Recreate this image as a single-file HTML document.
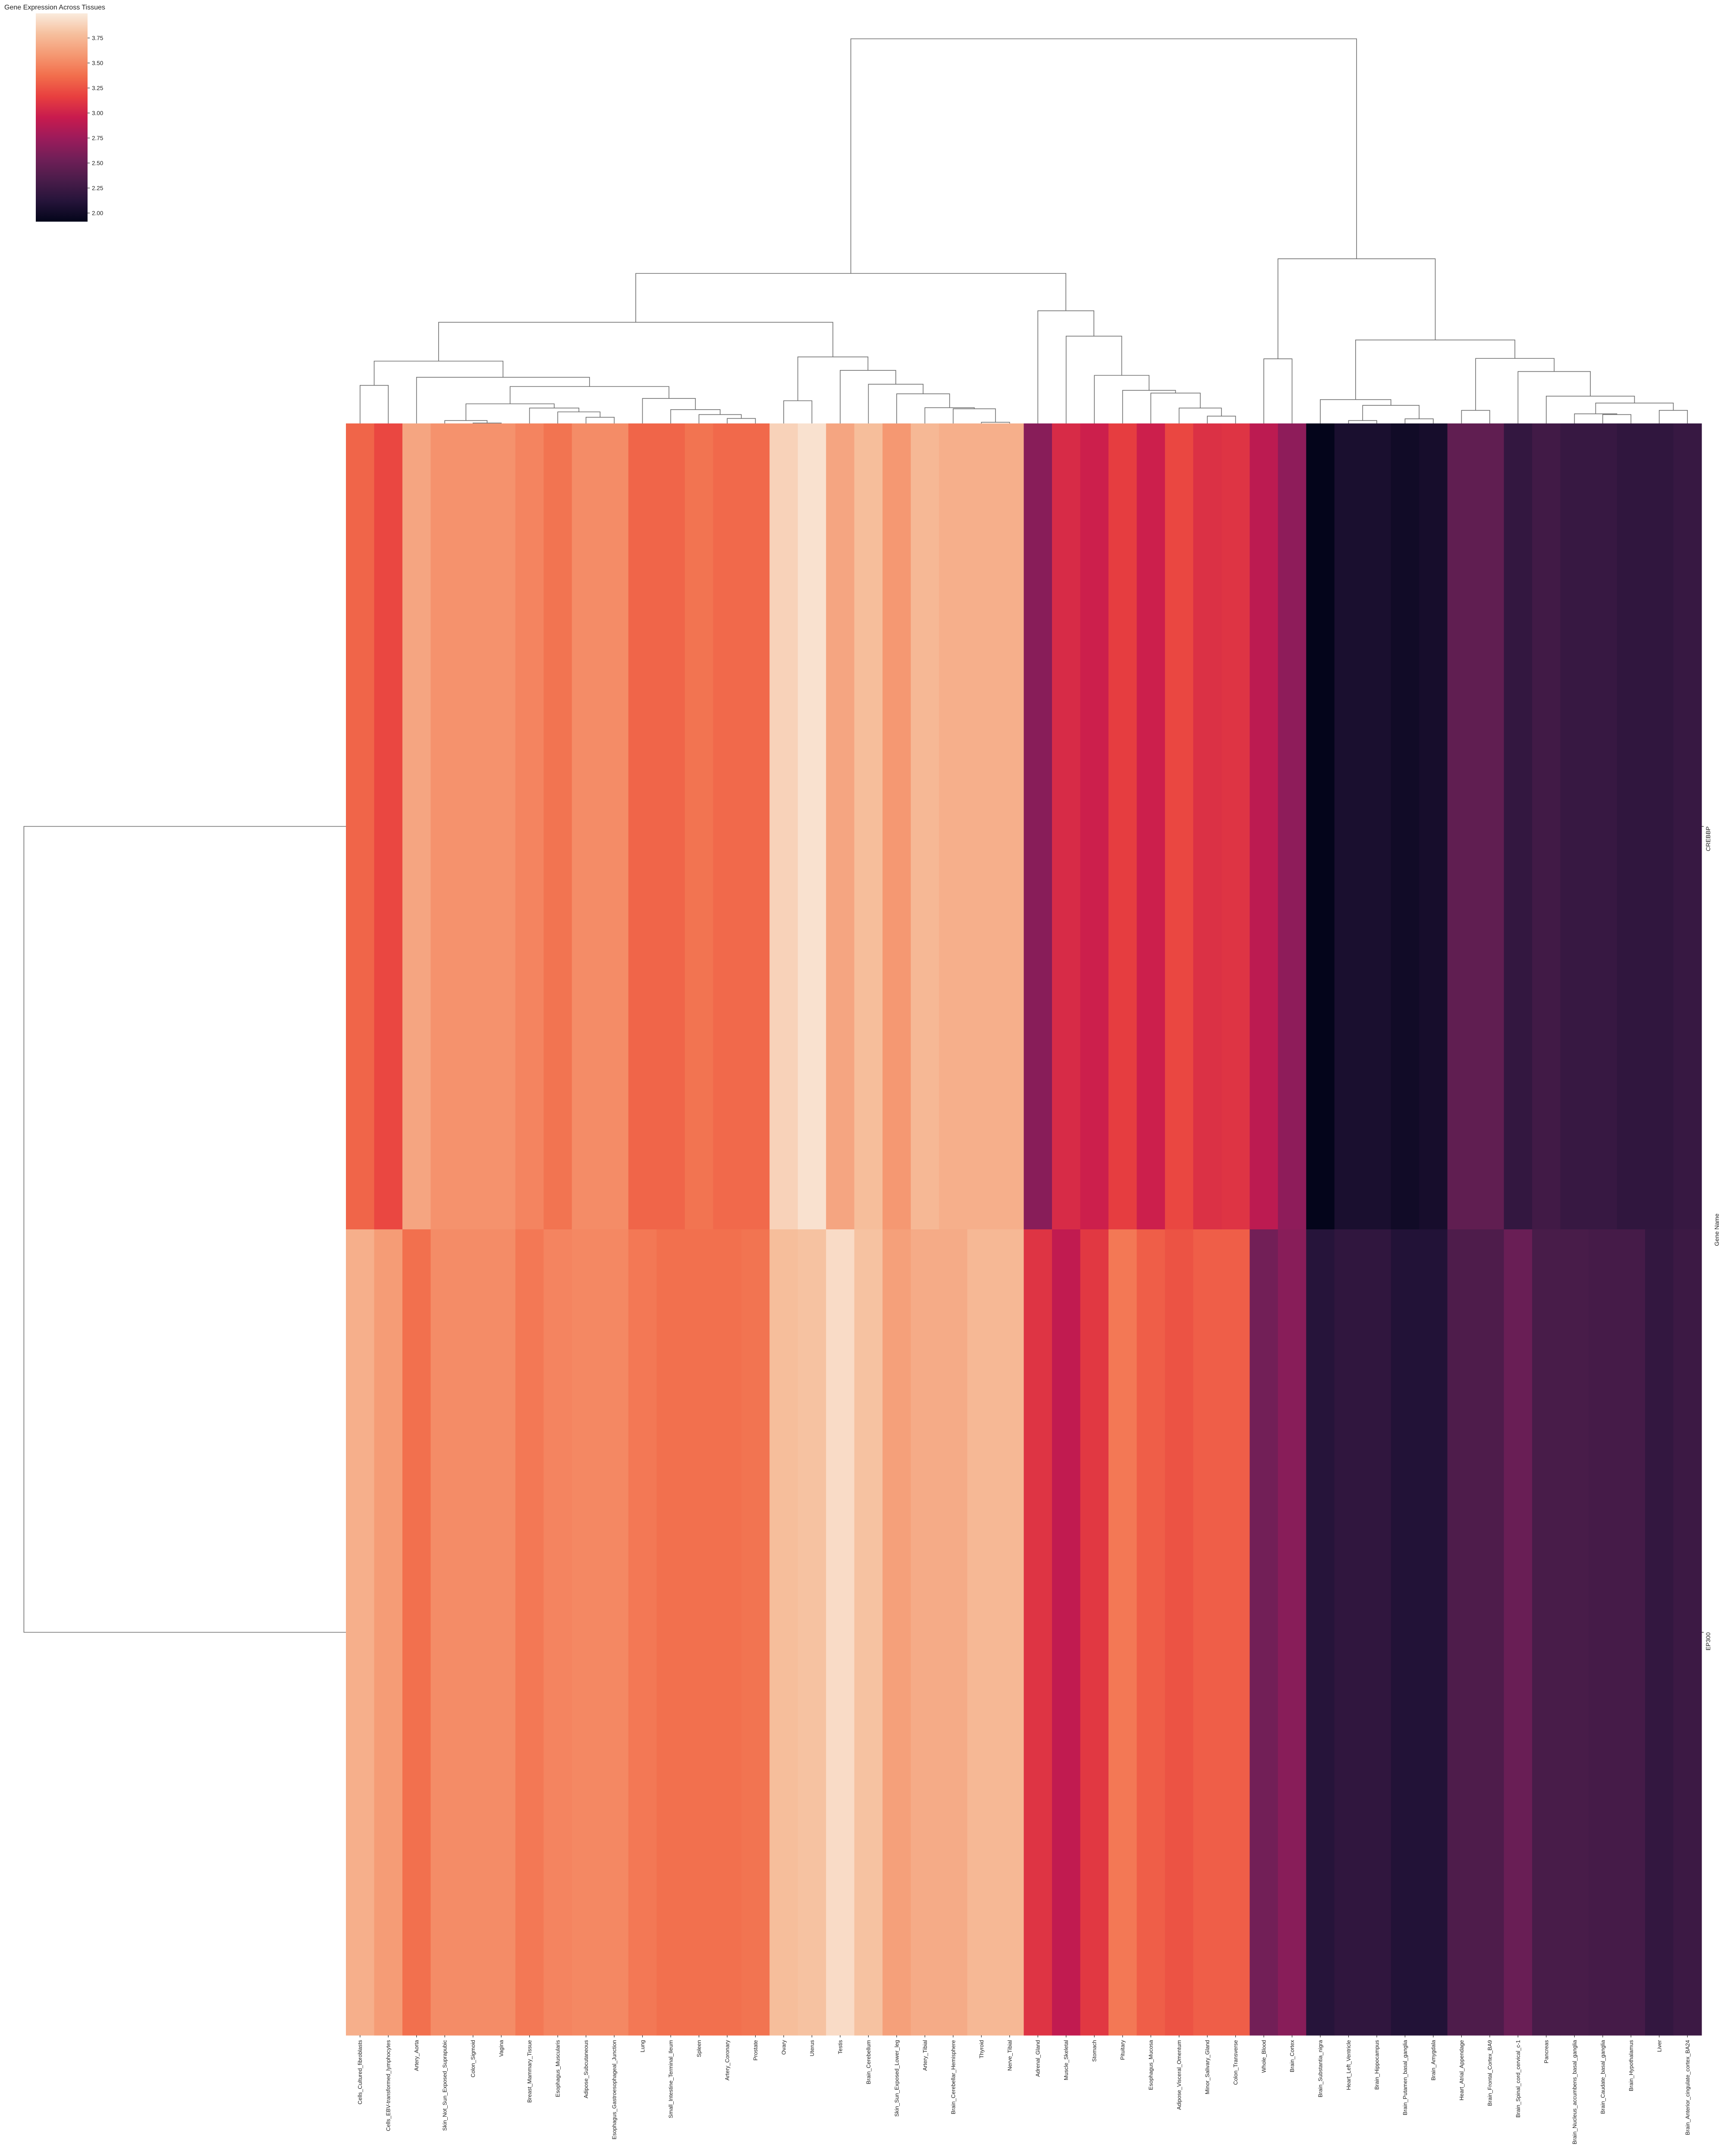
<!DOCTYPE html>
<html><head><meta charset="utf-8"><title>Gene Expression Across Tissues</title>
<style>html,body{margin:0;padding:0;background:#fff;overflow:hidden;}svg{display:block;font-family:"Liberation Sans","DejaVu Sans",sans-serif;}</style>
</head><body>
<svg id="chart" width="3997" height="5027" viewBox="0 0 3997 5027" xmlns="http://www.w3.org/2000/svg">
<defs><linearGradient id="cbgrad" x1="0" y1="1" x2="0" y2="0"></linearGradient></defs>
<text x="10" y="22" font-size="16" fill="#222">Gene Expression Across Tissues</text>
<g id="colorbar"></g>
<g id="heat"></g>
<g id="coldend"></g>
<g id="rowdend"></g>
<g id="xlabels"></g>
<g id="ylabels"></g>
</svg>
<script>
const tissues = ["Cells_Cultured_fibroblasts","Cells_EBV-transformed_lymphocytes","Artery_Aorta","Skin_Not_Sun_Exposed_Suprapubic","Colon_Sigmoid","Vagina","Breast_Mammary_Tissue","Esophagus_Muscularis","Adipose_Subcutaneous","Esophagus_Gastroesophageal_Junction","Lung","Small_Intestine_Terminal_Ileum","Spleen","Artery_Coronary","Prostate","Ovary","Uterus","Testis","Brain_Cerebellum","Skin_Sun_Exposed_Lower_leg","Artery_Tibial","Brain_Cerebellar_Hemisphere","Thyroid","Nerve_Tibial","Adrenal_Gland","Muscle_Skeletal","Stomach","Pituitary","Esophagus_Mucosa","Adipose_Visceral_Omentum","Minor_Salivary_Gland","Colon_Transverse","Whole_Blood","Brain_Cortex","Brain_Substantia_nigra","Heart_Left_Ventricle","Brain_Hippocampus","Brain_Putamen_basal_ganglia","Brain_Amygdala","Heart_Atrial_Appendage","Brain_Frontal_Cortex_BA9","Brain_Spinal_cord_cervical_c-1","Pancreas","Brain_Nucleus_accumbens_basal_ganglia","Brain_Caudate_basal_ganglia","Brain_Hypothalamus","Liver","Brain_Anterior_cingulate_cortex_BA24"];
const genes = ["CREBBP","EP300"];
const crebbp = [3.33,3.2,3.65,3.55,3.55,3.55,3.48,3.4,3.52,3.52,3.33,3.33,3.4,3.35,3.35,3.88,3.95,3.65,3.78,3.58,3.75,3.7,3.7,3.7,2.65,3.05,2.98,3.15,2.98,3.2,3.08,3.1,2.9,2.68,1.92,2.05,2.05,2.0,2.03,2.45,2.45,2.2,2.28,2.22,2.22,2.18,2.18,2.22];
const ep300 = [3.7,3.6,3.38,3.52,3.52,3.52,3.42,3.48,3.5,3.5,3.42,3.38,3.38,3.38,3.4,3.78,3.8,3.92,3.8,3.62,3.68,3.68,3.75,3.75,3.1,2.92,3.12,3.42,3.3,3.25,3.3,3.3,2.55,2.65,2.12,2.18,2.18,2.1,2.1,2.35,2.35,2.5,2.32,2.32,2.3,2.3,2.2,2.25];
const cbTicks = [2.00,2.25,2.50,2.75,3.00,3.25,3.50,3.75];
const cbRange = [1.914,3.996];
// column linkage (scipy style): merge k creates node id 48+k
const mergeLeft  = [4,3,8,7,6,49,13,12,11,10,53,2,0,60,22,21,20,19,18,17,15,68,61,30,29,28,27,26,25,24,70,32,35,37,80,34,39,44,43,46,86,42,41,84,83,79,78];
const mergeRight = [5,48,9,50,51,52,14,54,55,56,57,58,1,59,23,62,63,64,65,66,16,67,69,31,71,72,73,74,75,76,77,33,36,38,81,82,40,45,85,47,87,88,89,90,91,92,93];
const mergeDist  = [0.01,0.075,0.16,0.30,0.40,0.51,0.13,0.23,0.36,0.65,0.96,1.20,0.99,1.62,0.03,0.38,0.41,0.77,1.02,1.38,0.59,1.73,2.63,0.19,0.40,0.79,0.86,1.25,2.27,2.93,3.90,1.68,0.075,0.12,0.47,0.62,0.34,0.23,0.25,0.34,0.53,0.71,1.35,1.69,2.17,4.28,10.0];
const rowLinkDist = [8.37];

const NS="http://www.w3.org/2000/svg";
function mk(tag,attrs,parent){const e=document.createElementNS(NS,tag);for(const k in attrs)e.setAttribute(k,attrs[k]);parent.appendChild(e);return e;}
const HX0=802,HX1=3945,HY0=982,HY1=4720;
const NC=tissues.length;
const cw=(HX1-HX0)/NC, rh=(HY1-HY0)/genes.length;
const colX=i=>HX0+(i+0.5)*cw;
const dendY=d=>HY0-d*89.2;
const rowDendX=d=>HX0-d*89.2;
const stops=[[0,"#03051a"],[0.1,"#26143a"],[0.2,"#4a1c4a"],[0.3,"#701f57"],[0.4,"#9c1b5b"],[0.5,"#c81b4e"],[0.6,"#e83f3f"],[0.7,"#f26e4c"],[0.8,"#f59872"],[0.9,"#f6bf9d"],[1,"#faebdd"]];
function hex(c){return [1,3,5].map(i=>parseInt(c.substr(i,2),16));}
function cmap(v){let t=(v-cbRange[0])/(cbRange[1]-cbRange[0]);t=Math.max(0,Math.min(1,t));
 for(let i=1;i<stops.length;i++){if(t<=stops[i][0]){const a=hex(stops[i-1][1]),b=hex(stops[i][1]);const f=(t-stops[i-1][0])/(stops[i][0]-stops[i-1][0]);return "rgb("+a.map((x,j)=>Math.round(x+(b[j]-x)*f)).join(",")+")";}}
 return stops[stops.length-1][1];}

// heatmap
const heat=document.getElementById("heat");
[crebbp,ep300].forEach((row,r)=>{row.forEach((v,i)=>{
  const rc=mk("rect",{x:HX0+i*cw,y:HY0+r*rh,width:cw+0.6,height:rh+0.6,fill:cmap(v)},heat);
  
  
});});

// x labels
const xl=document.getElementById("xlabels");
tissues.forEach((t,i)=>{const x=colX(i);
  const tk=mk("line",{x1:x,y1:HY1,x2:x,y2:HY1+5,stroke:"#222","stroke-width":1.2},xl);
  
  
  const tx=mk("text",{transform:"translate("+(x+4.5)+","+(HY1+11)+") rotate(-90)","text-anchor":"end","font-size":"12.8",fill:"#222"},xl);
  tx.textContent=t;
  
  
});

// y labels
const yl=document.getElementById("ylabels");
genes.forEach((g,r)=>{const y=HY0+(r+0.5)*rh;
  const tk=mk("line",{x1:HX1,y1:y,x2:HX1+5,y2:y,stroke:"#222","stroke-width":1.2},yl);
  
  
  const tx=mk("text",{transform:"translate("+(HX1+20)+","+y+") rotate(-90)","text-anchor":"end","font-size":"14",fill:"#222"},yl);
  tx.textContent=g;
  
  
});
const yt=mk("text",{transform:"translate(3985,2852) rotate(-90)","text-anchor":"middle","font-size":"14",fill:"#222"},yl);
yt.textContent="Gene Name";



// column dendrogram
const cd=document.getElementById("coldend");
const nodeX=[],nodeD=[];
for(let i=0;i<NC;i++){nodeX.push(colX(i));nodeD.push(0);}
for(let k=0;k<mergeLeft.length;k++){
  const a=mergeLeft[k],b=mergeRight[k],d=mergeDist[k];
  const p=mk("path",{d:"M"+nodeX[a]+","+dendY(nodeD[a])+"V"+dendY(d)+"H"+nodeX[b]+"V"+dendY(nodeD[b]),fill:"none",stroke:"#6e6e6e","stroke-width":1.6},cd);
  
  
  nodeX.push((nodeX[a]+nodeX[b])/2);nodeD.push(d);
}

// row dendrogram
const rd=document.getElementById("rowdend");
const ry0=HY0+0.5*rh,ry1=HY0+1.5*rh,rxd=rowDendX(rowLinkDist[0]);
const rp=mk("path",{d:"M"+HX0+","+ry0+"H"+rxd+"V"+ry1+"H"+HX0,fill:"none",stroke:"#6e6e6e","stroke-width":1.6},rd);



// colorbar
const grad=document.getElementById("cbgrad");
stops.forEach(s=>{mk("stop",{offset:s[0],"stop-color":s[1]},grad);});
const cb=document.getElementById("colorbar");
const CBX=83,CBW=120,CBY0=31,CBY1=514;
const cbY=v=>CBY1-(v-cbRange[0])/(cbRange[1]-cbRange[0])*(CBY1-CBY0);
const cr=mk("rect",{x:CBX,y:CBY0,width:CBW,height:CBY1-CBY0,fill:"url(#cbgrad)"},cb);


cbTicks.forEach(v=>{const y=cbY(v);
  const tk=mk("line",{x1:CBX+CBW,y1:y,x2:CBX+CBW+5,y2:y,stroke:"#222","stroke-width":1.2},cb);
  
  
  const tx=mk("text",{x:CBX+CBW+10,y:y+5,"font-size":"13.5",fill:"#222"},cb);
  tx.textContent=v.toFixed(2);
  
  
});
</script>
</body></html>
